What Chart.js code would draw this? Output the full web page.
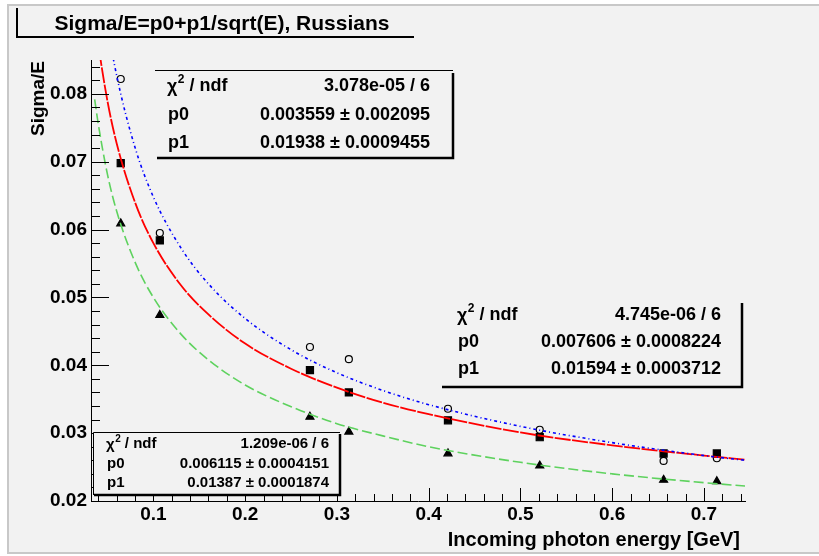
<!DOCTYPE html>
<html><head><meta charset="utf-8">
<script src="https://cdn.jsdelivr.net/npm/chart.js@4.4.0/dist/chart.umd.min.js"></script>
<style>html,body{margin:0;padding:0;background:#fff}canvas{display:block}</style>
</head><body>
<canvas id="c" width="819" height="556"></canvas>
<script>
// ---- data ----
const energies       = [0.0644, 0.107, 0.2706, 0.313, 0.421, 0.521, 0.656, 0.714];
const sigmaOpen      = [0.0822, 0.0595, 0.0427, 0.0409, 0.0336, 0.0305, 0.0259, 0.0263];
const sigmaSquare    = [0.0698, 0.0584, 0.0393, 0.0360, 0.0319, 0.0294, 0.0270, 0.0270];
const sigmaTriangle  = [0.0609, 0.0474, 0.0324, 0.0302, 0.0270, 0.0252, 0.0231, 0.0229];
// fit curves
const curveE     = [0.036, 0.04, 0.05, 0.06, 0.08, 0.10, 0.13, 0.16, 0.2, 0.25, 0.3, 0.35, 0.4, 0.5, 0.6, 0.7, 0.745];
const fitBlue    = [0.1057, 0.1005, 0.0902, 0.0827, 0.0721, 0.0648, 0.0573, 0.0520, 0.0469, 0.0423, 0.0389, 0.0363, 0.0342, 0.0310, 0.0286, 0.0267, 0.0260];
const fitRed     = [0.0916, 0.0873, 0.0789, 0.0727, 0.0640, 0.0580, 0.0518, 0.0475, 0.0432, 0.0395, 0.0367, 0.0345, 0.0328, 0.0301, 0.0282, 0.0267, 0.0261];
const fitGreen   = [0.0792, 0.0755, 0.0681, 0.0627, 0.0552, 0.0500, 0.0446, 0.0408, 0.0371, 0.0339, 0.0314, 0.0296, 0.0280, 0.0257, 0.0240, 0.0227, 0.0222];
// tick labels
const xTickValues = [0.1, 0.2, 0.3, 0.4, 0.5, 0.6, 0.7];
const xTickLabels = ['0.1', '0.2', '0.3', '0.4', '0.5', '0.6', '0.7'];
const yTickValues = [0.02, 0.03, 0.04, 0.05, 0.06, 0.07, 0.08];
const yTickLabels = ['0.02', '0.03', '0.04', '0.05', '0.06', '0.07', '0.08'];
// texts
const chartTitle = 'Sigma/E=p0+p1/sqrt(E), Russians';
const xTitle = 'Incoming photon energy [GeV]';
const yTitle = 'Sigma/E';
const statBlue  = ['3.078e-05 / 6', '0.003559 ± 0.002095', '0.01938 ± 0.0009455'];
const statRed   = ['4.745e-06 / 6', '0.007606 ± 0.0008224', '0.01594 ± 0.0003712'];
const statGreen = ['1.209e-06 / 6', '0.006115 ± 0.0004151', '0.01387 ± 0.0001874'];

const FONT = '"Liberation Sans", Arial, Helvetica, sans-serif';
const toXY = (xs, ys) => xs.map((x, i) => ({x: x, y: ys[i]}));

const bgPlugin = {
  id: 'bg',
  beforeDraw(chart) {
    const ctx = chart.ctx;
    ctx.save();
    ctx.fillStyle = '#ffffff';
    ctx.fillRect(0, 0, 819, 556);
    ctx.fillStyle = '#f2f2f2';
    ctx.fillRect(8, 5, 811, 548);
    ctx.strokeStyle = '#c8c8c8';
    ctx.lineWidth = 2;
    ctx.beginPath();
    ctx.moveTo(819, 5); ctx.lineTo(8, 5); ctx.lineTo(8, 553); ctx.lineTo(819, 553);
    ctx.stroke();
    ctx.restore();
  }
};

function statBox(ctx, box, values) {
  ctx.save();
  ctx.fillStyle = '#f2f2f2';
  ctx.fillRect(box.l, box.t, box.r - box.l, box.b - box.t);
  ctx.strokeStyle = '#000';
  if (box.thin) {
    ctx.lineWidth = 1;
    ctx.beginPath();
    box.thin.forEach(s => { ctx.moveTo(s[0], s[1]); ctx.lineTo(s[2], s[3]); });
    ctx.stroke();
  }
  ctx.lineWidth = 2.5;
  ctx.beginPath();
  ctx.moveTo(box.r, box.st); ctx.lineTo(box.r, box.b); ctx.lineTo(box.sl, box.b);
  ctx.stroke();
  ctx.fillStyle = '#000';
  ctx.textBaseline = 'middle';
  const f = box.fs;
  ctx.font = 'bold ' + f + 'px ' + FONT;
  ctx.textAlign = 'left';
  let x = box.tx;
  ctx.fillText('χ', x, box.rows[0] + 1);
  x += ctx.measureText('χ').width + 0.5;
  ctx.font = 'bold ' + Math.round(f * 0.65) + 'px ' + FONT;
  ctx.fillText('2', x, box.rows[0] - f * 0.35);
  x += ctx.measureText('2').width;
  ctx.font = 'bold ' + f + 'px ' + FONT;
  ctx.fillText(' / ndf', x, box.rows[0]);
  ctx.fillText('p0', box.tx + 1, box.rows[1]);
  ctx.fillText('p1', box.tx + 1, box.rows[2]);
  ctx.textAlign = 'right';
  values.forEach((v, i) => ctx.fillText(v, box.vx, box.rows[i]));
  ctx.restore();
}

const decoPlugin = {
  id: 'deco',
  afterDraw(chart) {
    const ctx = chart.ctx;
    const xs = chart.scales.x, ys = chart.scales.y;
    const a = chart.chartArea;
    ctx.save();
    ctx.strokeStyle = '#000';
    ctx.lineWidth = 1;
    ctx.beginPath();
    for (let k = 10; k <= 42; k++) {
      const v = k * 0.002;
      const p = Math.round(ys.getPixelForValue(v)) + 0.5;
      if (p < a.top - 0.5) continue;
      const len = (k % 5 === 0) ? 18 : 9;
      ctx.moveTo(a.left, p); ctx.lineTo(a.left + len, p);
    }
    for (let k = 2; k <= 37; k++) {
      const v = k * 0.02;
      const p = Math.round(xs.getPixelForValue(v)) + 0.5;
      if (p > a.right + 0.5) continue;
      const len = (k % 5 === 0) ? 13 : 7;
      ctx.moveTo(p, a.bottom); ctx.lineTo(p, a.bottom - len);
    }
    ctx.stroke();

    statBox(ctx, {l: 155, t: 70, r: 453, b: 158, st: 73, sl: 157, thin: [[155, 70.5, 453, 70.5]],
                  fs: 18, tx: 167, vx: 430, rows: [86, 115, 143]}, statBlue);
    statBox(ctx, {l: 442, t: 295, r: 742, b: 387, st: 303, sl: 442, thin: null,
                  fs: 18, tx: 457, vx: 721, rows: [315, 342, 369]}, statRed);
    statBox(ctx, {l: 93, t: 432, r: 340, b: 495, st: 434, sl: 94,
                  thin: [[93.5, 432.5, 340, 432.5], [93.5, 432.5, 93.5, 495]],
                  fs: 15, tx: 106, vx: 329, rows: [444, 464, 483]}, statGreen);

    ctx.lineWidth = 2;
    ctx.beginPath();
    ctx.moveTo(17, 8); ctx.lineTo(17, 37); ctx.lineTo(414, 37);
    ctx.stroke();
    ctx.fillStyle = '#000';
    ctx.font = 'bold 21px ' + FONT;
    ctx.textAlign = 'center';
    ctx.textBaseline = 'alphabetic';
    ctx.fillText(chartTitle, 222, 30);

    ctx.font = 'bold 20px ' + FONT;
    ctx.textAlign = 'right';
    ctx.fillText(xTitle, 740, 546);
    ctx.save();
    ctx.translate(44, 61);
    ctx.rotate(-Math.PI / 2);
    ctx.font = 'bold 19px ' + FONT;
    ctx.textAlign = 'right';
    ctx.fillText(yTitle, 0, 0);
    ctx.restore();
    ctx.restore();
  }
};

const lineDs = (label, ys, color, dash, w) => ({
  label: label, data: toXY(curveE, ys), showLine: true, pointRadius: 0, pointHoverRadius: 0,
  borderColor: color, borderWidth: w, borderDash: dash, fill: false,
  cubicInterpolationMode: 'monotone'
});
const markDs = (label, ys, style, r, filled) => ({
  label: label, data: toXY(energies, ys), showLine: false, pointStyle: style, pointRadius: r,
  pointHoverRadius: r, pointBorderColor: '#000', pointBackgroundColor: filled ? '#000' : 'rgba(0,0,0,0)',
  pointBorderWidth: 1.2
});

new Chart(document.getElementById('c'), {
  type: 'scatter',
  data: {
    datasets: [
      lineDs('fit blue', fitBlue, '#0000ff', [3, 3, 1, 3], 1.6),
      lineDs('fit red', fitRed, '#ff0000', [16, 1.5], 1.8),
      lineDs('fit green', fitGreen, '#5ed25e', [10, 4], 1.6),
      markDs('open circles', sigmaOpen, 'circle', 3.5, false),
      markDs('squares', sigmaSquare, 'rect', 5, true),
      markDs('triangles', sigmaTriangle, 'triangle', 4.6, true)
    ]
  },
  options: {
    responsive: false,
    animation: false,
    devicePixelRatio: 1,
    layout: {padding: {left: 0, top: 60, right: 74, bottom: 0}},
    plugins: {legend: {display: false}, tooltip: {enabled: false}, title: {display: false}},
    scales: {
      x: {
        type: 'linear', min: 0.032, max: 0.7447,
        grid: {display: false, drawTicks: false},
        border: {display: true, color: '#000', width: 1},
        afterBuildTicks: s => { s.ticks = xTickValues.map(v => ({value: v})); },
        afterFit: s => { s.height = 55; },
        ticks: {
          autoSkip: false, maxRotation: 0, padding: 2, color: '#000',
          font: {family: FONT, size: 19, weight: 'bold'},
          callback: (v) => { const i = xTickValues.findIndex(t => Math.abs(t - v) < 1e-9); return i >= 0 ? xTickLabels[i] : ''; }
        }
      },
      y: {
        type: 'linear', min: 0.02, max: 0.085,
        grid: {display: false, drawTicks: false},
        border: {display: true, color: '#000', width: 1},
        afterBuildTicks: s => { s.ticks = yTickValues.map(v => ({value: v})); },
        afterFit: s => { s.width = 91; },
        ticks: {
          autoSkip: false, padding: 4, color: '#000',
          font: {family: FONT, size: 19, weight: 'bold'},
          callback: (v) => { const i = yTickValues.findIndex(t => Math.abs(t - v) < 1e-9); return i >= 0 ? yTickLabels[i] : ''; }
        }
      }
    }
  },
  plugins: [bgPlugin, decoPlugin]
});
</script>
</body></html>
